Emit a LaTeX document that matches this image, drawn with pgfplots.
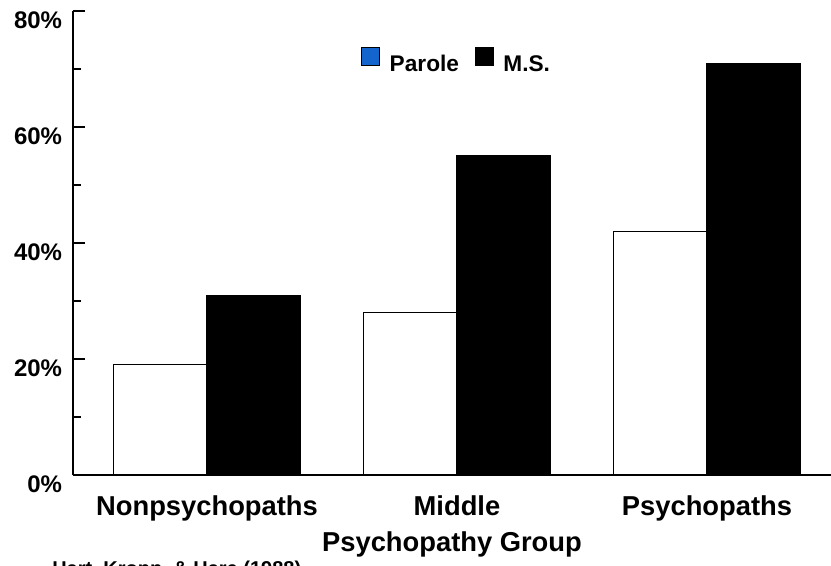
\documentclass[border=0pt]{standalone}
\usepackage{fontspec}
\setmainfont{Liberation Sans}
\usepackage{pgfplots}
\pgfplotsset{compat=1.18}
\definecolor{paroleblue}{RGB}{20,100,205}

\pgfplotstableread{
x  parole  ms
0  19      31
1  28      55
2  42      71
}\rates

\begin{document}
\begin{tikzpicture}
\path[use as bounding box] (-54.75pt,-67.5pt) rectangle (568.5pt,356.25pt);
\begin{axis}[
    scale only axis,
    width=568.5pt, height=348pt,
    at={(0,0)}, anchor=south west,
    xmin=-0.536, xmax=2.496,
    ymin=0, ymax=80,
    axis x line=bottom, axis y line=left,
    axis line style={-, line width=1.5pt},
    xtick=data,
    xticklabels={Nonpsychopaths,Middle,Psychopaths},
    xtick style={draw=none},
    xticklabel style={font=\fontsize{20.5}{24}\selectfont\bfseries, anchor=base, inner sep=0pt, yshift=-21pt},
    ytick={0,20,40,60,80},
    yticklabels={0\%,20\%,40\%,60\%,80\%},
    minor ytick={10,30,50,70},
    tick align=inside,
    major tick length=9pt, minor tick length=6pt,
    ytick style={line width=1pt, black},
    yticklabel style={font=\fontsize{18}{21}\selectfont\bfseries, anchor=base east, inner sep=0pt, xshift=-8pt, yshift=-12.75pt},
    xlabel={Psychopathy Group},
    xlabel style={font=\fontsize{20.5}{24}\selectfont\bfseries, at={(axis description cs:0.5,0)}, anchor=base, inner sep=0pt, yshift=-57.5pt},
    ybar=0pt, bar width=0.375,
    legend columns=-1,
    legend style={draw=none, fill=none, at={(0.38,0.891)}, anchor=west, inner sep=0pt,
        font=\fontsize{17}{20}\selectfont\bfseries,
        /tikz/every odd column/.append style={column sep=5pt},
        /tikz/every even column/.append style={column sep=10pt}},
]
\addplot[draw=black, fill=white, line width=1pt, bar shift=-0.1875,
    legend image code/.code={\draw[draw=black, fill=paroleblue, line width=0.8pt] (0pt,-1.2pt) rectangle (13.5pt,12.3pt);}]
    table[x=x, y=parole] {\rates};
\addplot[draw=black, fill=black, line width=1pt, bar shift=0.1875,
    legend image code/.code={\draw[draw=black, fill=black, line width=0.8pt] (0pt,-1.2pt) rectangle (13.5pt,12.3pt);}]
    table[x=x, y=ms] {\rates};
\legend{Parole, M.S.}
\end{axis}
\node[font=\fontsize{15}{18}\selectfont\bfseries, anchor=base west, inner sep=0pt] at (-15.75pt,-75.4pt) {Hart, Kropp, \& Hare (1988)};
\end{tikzpicture}
\end{document}
